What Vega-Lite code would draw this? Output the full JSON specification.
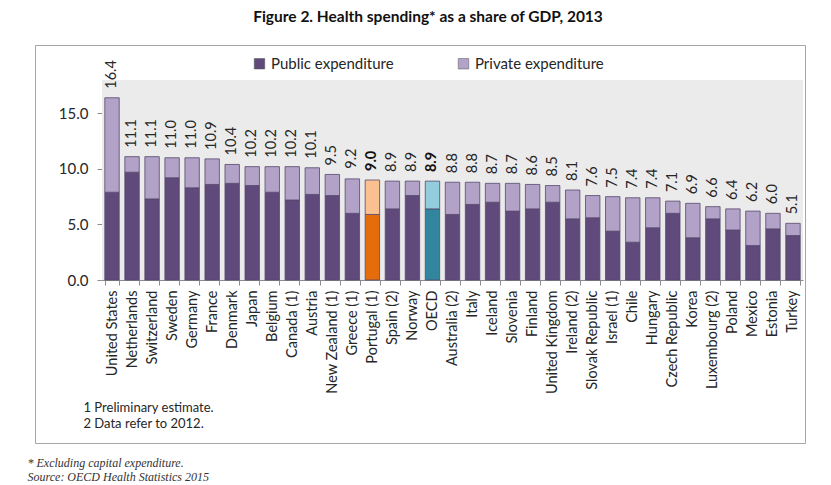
{
  "$schema": "https://vega.github.io/schema/vega-lite/v6.json",
  "autosize": {"type": "none"},
  "width": 770,
  "height": 398,
  "padding": {"left": 35, "top": 45, "right": 26, "bottom": 42},
  "background": "white",
  "title": {
    "text": "Figure 2. Health spending* as a share of GDP, 2013",
    "font": "Lato",
    "fontSize": 15.5,
    "fontWeight": "bold",
    "color": "#111111",
    "anchor": "middle",
    "dx": 8,
    "offset": 20
  },
  "config": {
    "view": {"stroke": "#A6A6A6", "strokeWidth": 1},
    "font": "Lato"
  },
  "datasets": {
    "health": [
      {"country": "United States", "public": 7.9, "private": 8.5, "total": 16.4, "bold": false},
      {"country": "Netherlands", "public": 9.7, "private": 1.4, "total": 11.1, "bold": false},
      {"country": "Switzerland", "public": 7.3, "private": 3.8, "total": 11.1, "bold": false},
      {"country": "Sweden", "public": 9.2, "private": 1.8, "total": 11.0, "bold": false},
      {"country": "Germany", "public": 8.3, "private": 2.7, "total": 11.0, "bold": false},
      {"country": "France", "public": 8.6, "private": 2.3, "total": 10.9, "bold": false},
      {"country": "Denmark", "public": 8.7, "private": 1.7, "total": 10.4, "bold": false},
      {"country": "Japan", "public": 8.5, "private": 1.7, "total": 10.2, "bold": false},
      {"country": "Belgium", "public": 7.9, "private": 2.3, "total": 10.2, "bold": false},
      {"country": "Canada (1)", "public": 7.2, "private": 3.0, "total": 10.2, "bold": false},
      {"country": "Austria", "public": 7.7, "private": 2.4, "total": 10.1, "bold": false},
      {"country": "New Zealand (1)", "public": 7.6, "private": 1.9, "total": 9.5, "bold": false},
      {"country": "Greece (1)", "public": 6.0, "private": 3.1, "total": 9.2, "bold": false},
      {"country": "Portugal (1)", "public": 5.9, "private": 3.1, "total": 9.0, "bold": true},
      {"country": "Spain (2)", "public": 6.4, "private": 2.5, "total": 8.9, "bold": false},
      {"country": "Norway", "public": 7.6, "private": 1.3, "total": 8.9, "bold": false},
      {"country": "OECD", "public": 6.4, "private": 2.5, "total": 8.9, "bold": true},
      {"country": "Australia (2)", "public": 5.9, "private": 2.9, "total": 8.8, "bold": false},
      {"country": "Italy", "public": 6.8, "private": 2.0, "total": 8.8, "bold": false},
      {"country": "Iceland", "public": 7.0, "private": 1.7, "total": 8.7, "bold": false},
      {"country": "Slovenia", "public": 6.2, "private": 2.5, "total": 8.7, "bold": false},
      {"country": "Finland", "public": 6.4, "private": 2.2, "total": 8.6, "bold": false},
      {"country": "United Kingdom", "public": 7.0, "private": 1.5, "total": 8.5, "bold": false},
      {"country": "Ireland (2)", "public": 5.5, "private": 2.6, "total": 8.1, "bold": false},
      {"country": "Slovak Republic", "public": 5.6, "private": 2.0, "total": 7.6, "bold": false},
      {"country": "Israel (1)", "public": 4.4, "private": 3.1, "total": 7.5, "bold": false},
      {"country": "Chile", "public": 3.4, "private": 4.0, "total": 7.4, "bold": false},
      {"country": "Hungary", "public": 4.7, "private": 2.7, "total": 7.4, "bold": false},
      {"country": "Czech Republic", "public": 6.0, "private": 1.1, "total": 7.1, "bold": false},
      {"country": "Korea", "public": 3.8, "private": 3.1, "total": 6.9, "bold": false},
      {"country": "Luxembourg (2)", "public": 5.5, "private": 1.1, "total": 6.6, "bold": false},
      {"country": "Poland", "public": 4.5, "private": 1.9, "total": 6.4, "bold": false},
      {"country": "Mexico", "public": 3.1, "private": 3.1, "total": 6.2, "bold": false},
      {"country": "Estonia", "public": 4.6, "private": 1.4, "total": 6.0, "bold": false},
      {"country": "Turkey", "public": 4.0, "private": 1.1, "total": 5.1, "bold": false}
    ],
    "backdrop": [{"x0": 0, "x1": 1, "y0": 0, "y1": 18}]
  },
  "layer": [
    {
      "data": {"name": "backdrop"},
      "mark": {"type": "rect", "fill": "#EBEBEB", "stroke": null},
      "encoding": {
        "x": {"field": "x0", "type": "quantitative", "scale": {"domain": [0, 1], "range": [67, 768]}, "axis": null},
        "x2": {"field": "x1"},
        "y": {"field": "y0", "type": "quantitative", "scale": {"domain": [0, 18], "range": [235, 35]}, "axis": {
          "orient": "left", "offset": -67, "values": [0, 5, 10, 15], "format": ".1f",
          "labelFont": "Lato", "labelFontSize": 15, "labelColor": "#262626", "labelPadding": 9,
          "domainColor": "#8C8C8C", "tickColor": "#8C8C8C", "tickSize": 5, "grid": false,
          "title": ["* Excluding capital expenditure.", "Source: OECD Health Statistics 2015"],
          "titleFont": "Liberation Serif", "titleFontStyle": "italic", "titleFontWeight": "normal", "titleFontSize": 12,
          "titleColor": "#333333", "titleAngle": 0, "titleAlign": "left", "titleBaseline": "middle",
          "titleX": -75, "titleY": 417, "titleLineHeight": 14
        }},
        "y2": {"field": "y1"}
      }
    },
    {
      "data": {"name": "health"},
      "layer": [
        {
          "transform": [
            {"fold": ["public", "private"], "as": ["part", "value"]},
            {"calculate": "(datum.country === 'Portugal (1)' ? 'PRT ' : datum.country === 'OECD' ? 'OECD ' : '') + (datum.part === 'public' ? 'Public expenditure' : 'Private expenditure')", "as": "series"},
            {"calculate": "datum.part === 'public' ? 0 : 1", "as": "ord"}
          ],
          "mark": {"type": "bar", "stroke": "#55476B", "strokeWidth": 0.8},
          "encoding": {
            "x": {"field": "country", "type": "nominal", "sort": null,
              "scale": {"range": [67, 768], "paddingInner": 0.28, "paddingOuter": 0.14},
              "axis": {
                "orient": "bottom", "offset": -163, "labelAngle": -90, "labelAlign": "right", "labelBaseline": "middle",
                "labelFont": "Lato", "labelFontSize": 14.5, "labelColor": "#262626", "labelPadding": 5,
                "domainColor": "#8C8C8C", "tickColor": "#8C8C8C", "tickSize": 5, "tickBand": "extent",
                "title": ["1 Preliminary estimate.", "2 Data refer to 2012."],
                "titleFont": "Lato", "titleFontSize": 13, "titleFontWeight": "normal", "titleColor": "#262626",
                "titleAnchor": "start", "titleAlign": "left", "titleBaseline": "middle",
                "titleX": 48, "titleY": 127, "titleLineHeight": 16
              }},
            "y": {"field": "value", "type": "quantitative", "stack": "zero"},
            "order": {"field": "ord", "type": "quantitative"},
            "color": {"field": "series", "type": "nominal",
              "scale": {
                "domain": ["Public expenditure", "Private expenditure", "PRT Public expenditure", "PRT Private expenditure", "OECD Public expenditure", "OECD Private expenditure"],
                "range": ["#604A7B", "#B3A2C7", "#E46C0A", "#FAC090", "#31859C", "#93CDDD"]
              },
              "legend": {
                "values": ["Public expenditure", "Private expenditure"],
                "title": null, "orient": "none", "legendX": 217, "legendY": 11, "direction": "horizontal",
                "symbolType": "square", "symbolSize": 110, "symbolStrokeColor": "#555555", "symbolStrokeWidth": 0.5,
                "labelFont": "Lato", "labelFontSize": 15, "labelColor": "#262626", "columnPadding": 62, "labelOffset": 4
              }
            }
          }
        },
        {
          "transform": [{"filter": "!datum.bold"}],
          "mark": {"type": "text", "angle": 270, "align": "left", "baseline": "middle", "dx": 9, "font": "Lato", "fontSize": 14.5, "color": "#262626"},
          "encoding": {
            "x": {"field": "country", "type": "nominal", "sort": null},
            "y": {"field": "total", "type": "quantitative"},
            "text": {"field": "total", "type": "quantitative", "format": ".1f"}
          }
        },
        {
          "transform": [{"filter": "datum.bold"}],
          "mark": {"type": "text", "angle": 270, "align": "left", "baseline": "middle", "dx": 9, "font": "Lato", "fontSize": 14.5, "fontWeight": "bold", "color": "#111111"},
          "encoding": {
            "x": {"field": "country", "type": "nominal", "sort": null},
            "y": {"field": "total", "type": "quantitative"},
            "text": {"field": "total", "type": "quantitative", "format": ".1f"}
          }
        }
      ]
    }
  ],
  "resolve": {"scale": {"x": "independent"}, "axis": {"x": "independent"}}
}
